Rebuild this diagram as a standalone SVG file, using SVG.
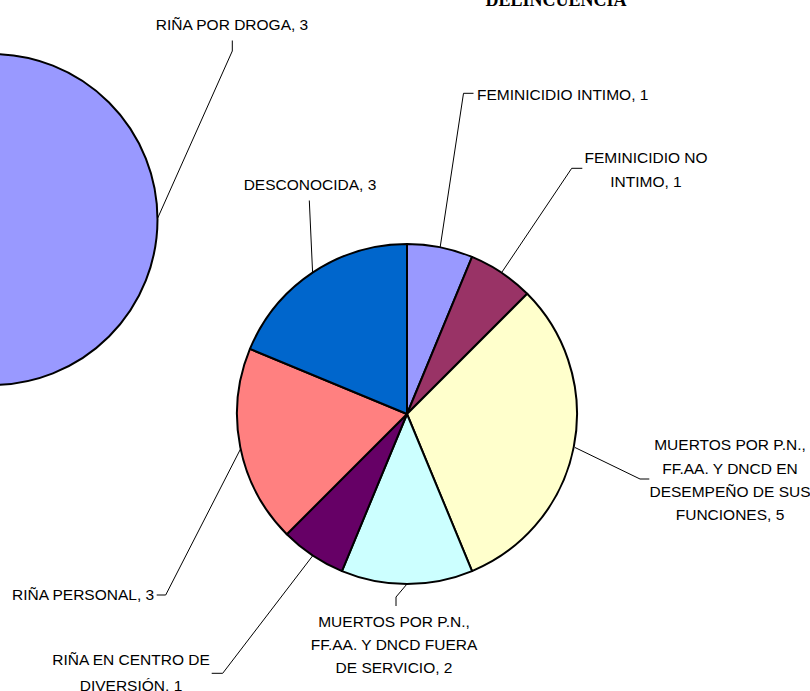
<svg xmlns="http://www.w3.org/2000/svg" width="810" height="691" viewBox="0 0 810 691">
<style>
.slice{stroke:#000;stroke-width:2;stroke-linejoin:round}
.lbl{font-family:"Liberation Sans",Arial,sans-serif;font-size:15.5px;fill:#000}
.c{text-anchor:middle}
.lead{fill:none;stroke:#000;stroke-width:1}
.title{font-family:"Liberation Serif","Times New Roman",serif;font-weight:bold;font-size:18px;fill:#000;text-anchor:middle}
</style>
<rect width="810" height="691" fill="#fff"/>
<text class="title" x="556" y="6">DELINCUENCIA</text>
<g id="rina-droga">
<circle class="slice" cx="-8" cy="219.5" r="165.5" fill="#9999FF"/>
<text class="lbl c" x="232" y="30">RIÑA POR DROGA, 3</text>
</g>
<g id="fem-intimo">
<path class="slice" d="M407,414 L407,244 A170,170 0 0 1 472.06,256.94 Z" fill="#9999FF"/>
<text class="lbl" x="477" y="100">FEMINICIDIO INTIMO, 1</text>
</g>
<g id="fem-no-intimo">
<path class="slice" d="M407,414 L472.06,256.94 A170,170 0 0 1 527.21,293.79 Z" fill="#993366"/>
<text class="lbl c" x="646" y="163.3">FEMINICIDIO NO</text>
<text class="lbl c" x="646" y="186.7">INTIMO, 1</text>
</g>
<g id="muertos-en">
<path class="slice" d="M407,414 L527.21,293.79 A170,170 0 0 1 472.06,571.06 Z" fill="#FFFFCC"/>
<text class="lbl c" x="730" y="450">MUERTOS POR P.N.,</text>
<text class="lbl c" x="730" y="473.5">FF.AA. Y DNCD EN</text>
<text class="lbl c" x="730" y="497">DESEMPEÑO DE SUS</text>
<text class="lbl c" x="730" y="520">FUNCIONES, 5</text>
</g>
<g id="muertos-fuera">
<path class="slice" d="M407,414 L472.06,571.06 A170,170 0 0 1 341.94,571.06 Z" fill="#CCFFFF"/>
<text class="lbl c" x="394" y="626.7">MUERTOS POR P.N.,</text>
<text class="lbl c" x="394" y="650">FF.AA. Y DNCD FUERA</text>
<text class="lbl c" x="394" y="673.3">DE SERVICIO, 2</text>
</g>
<g id="rina-centro">
<path class="slice" d="M407,414 L341.94,571.06 A170,170 0 0 1 286.79,534.21 Z" fill="#660066"/>
<text class="lbl c" x="131" y="665">RIÑA EN CENTRO DE</text>
<text class="lbl c" x="131" y="690.5">DIVERSIÓN, 1</text>
</g>
<g id="rina-personal">
<path class="slice" d="M407,414 L286.79,534.21 A170,170 0 0 1 249.94,348.94 Z" fill="#FF8080"/>
<text class="lbl" x="12" y="600">RIÑA PERSONAL, 3</text>
</g>
<g id="desconocida">
<path class="slice" d="M407,414 L249.94,348.94 A170,170 0 0 1 407,244 Z" fill="#0066CC"/>
<text class="lbl c" x="310" y="190">DESCONOCIDA, 3</text>
</g>
<g id="connectors">
<polyline class="lead" points="157.5,218.5 232.3,51 232.3,40.5"/>
<polyline class="lead" points="473.5,93.3 463.5,93.3 440.2,247"/>
<polyline class="lead" points="582.3,168.3 571.7,168.3 502,272"/>
<polyline class="lead" points="649.3,479 640,479 575,447.5"/>
<polyline class="lead" points="407,584 396,597 396,606"/>
<polyline class="lead" points="211.7,673.3 222.7,673.3 312.5,556"/>
<polyline class="lead" points="156.7,595 165.7,595 240.5,449"/>
<polyline class="lead" points="309.3,200.5 312.6,272.6"/>
</g>
</svg>
